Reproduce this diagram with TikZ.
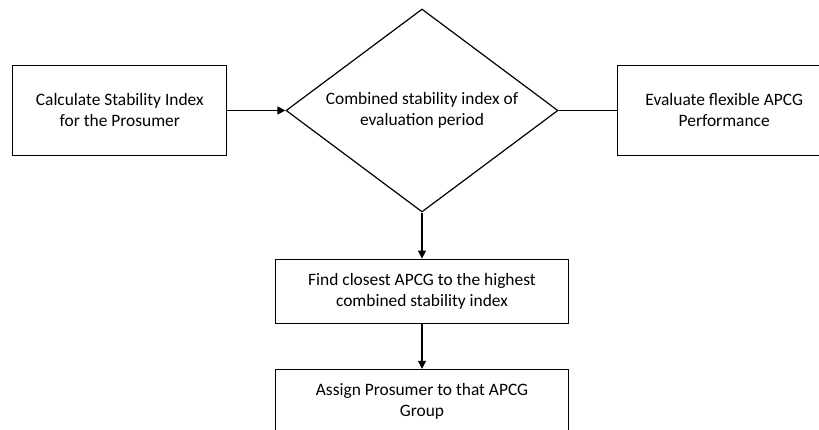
\documentclass[tikz,border=0pt]{standalone}
\usepackage{fontspec}
\setmainfont{Carlito}
\usetikzlibrary{arrows.meta,positioning,shapes.geometric}

\begin{document}
\begin{tikzpicture}[x=1pt, y=1pt, ->, >={Triangle[length=8pt,width=8pt]}, line width=1.2pt,
      font=\fontsize{17.4}{21}\selectfont,
      box/.style={draw, rectangle, align=center, inner sep=0pt}]
     \useasboundingbox (0,0) rectangle (819,-429);
     \node[draw, diamond, aspect=1.34, align=center, inner sep=0pt, minimum width=272pt, minimum height=203pt] (comb) at (422,-110.5) {Combined stability index of\\ evaluation period};
     \node[box, minimum width=214pt, minimum height=90pt, left = 58pt of comb] (calc) {Calculate Stability Index\\ for the Prosumer};
     \node[box, minimum width=214pt, minimum height=90pt, right = 58pt of comb] (eval) {Evaluate flexible APCG\\ Performance};
     \node[box, minimum width=293pt, minimum height=64pt, below = 46pt of comb] (closest) {Find closest APCG to the highest\\ combined stability index};
     \node[box, minimum width=293pt, minimum height=64pt, below = 45pt of closest] (assign) {Assign Prosumer to that APCG\\ Group};
     \draw (calc) edge (comb);
     \draw[-] (comb) -- (eval);
     \draw (comb) edge (closest);
     \draw (closest) edge (assign);
    \end{tikzpicture}
\end{document}
